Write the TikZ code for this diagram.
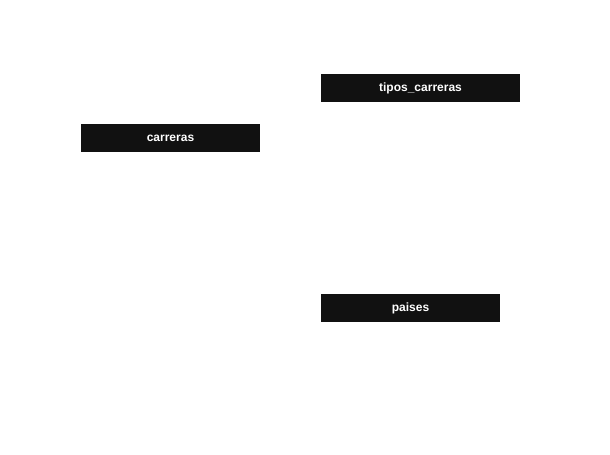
\documentclass[tikz,border=0pt]{standalone}
\usepackage{fontspec}
\setmainfont{Liberation Sans}
\usepackage{tikz}
\usetikzlibrary{positioning}

\begin{document}
\begin{tikzpicture}[x=0.75pt,y=-0.75pt,
    table node/.style={rectangle,fill={rgb,255:red,17;green,17;blue,17},text=white,font=\fontsize{9}{11}\selectfont\bfseries,inner sep=0pt,minimum height=21pt}]
   \useasboundingbox (0,0) rectangle (610,454);
   \begin{scope}
     \node[table node,minimum width=134.25pt] (carreras) at (170.5,138.4) {carreras};
     \node[table node,minimum width=149.25pt] (tipos) at (420.5,88.4) {tipos\_carreras};
     \node[table node,minimum width=134.25pt] (paises) at (410.5,308.4) {paises};
   \end{scope}
\end{tikzpicture}
\end{document}
